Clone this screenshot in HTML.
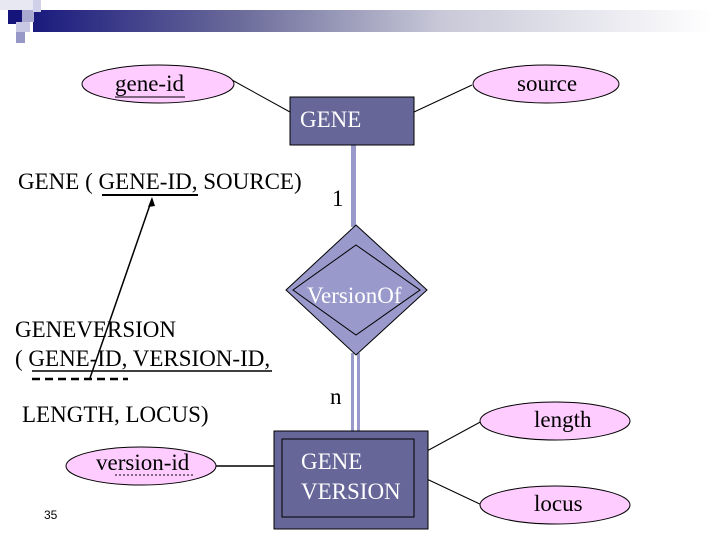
<!DOCTYPE html>
<html><head><meta charset="utf-8"><style>
body{margin:0;width:720px;height:540px;background:#fff;overflow:hidden;position:relative;font-family:"Liberation Serif",serif}
.t{position:absolute;font-size:23px;color:#000;white-space:nowrap}
</style></head><body>
<svg width="720" height="540" style="position:absolute;left:0;top:0">
<defs><linearGradient id="g" x1="0" x2="1"><stop offset="0" stop-color="#1a1a7e"/><stop offset="0.3" stop-color="#6a6a9a"/><stop offset="0.6" stop-color="#c8c8d8"/><stop offset="1" stop-color="#fff"/></linearGradient></defs>
<rect x="33" y="10" width="680" height="22" fill="url(#g)"/>
<rect x="0" y="0" width="40" height="10" fill="#e8e8f2"/>
<rect x="8" y="10" width="14" height="14" fill="#14147a"/>
<rect x="22" y="10" width="12" height="12" fill="#aaaad0"/>
<rect x="16" y="22" width="14" height="10" fill="#c8c8e4"/>
<rect x="16" y="32" width="9" height="11" fill="#9898c8"/>
<rect x="33" y="0" width="8" height="12" fill="#d0d0e8"/>
<line x1="232" y1="80" x2="290" y2="112" stroke="#000"/>
<line x1="414" y1="112" x2="472" y2="85" stroke="#000"/>
<line x1="214" y1="466" x2="282" y2="466" stroke="#000" stroke-width="1.5"/>
<line x1="414" y1="458" x2="484" y2="420" stroke="#000"/>
<line x1="414" y1="473" x2="484" y2="506" stroke="#000"/>
<rect x="351" y="145" width="5" height="82" fill="#9999cc"/>
<rect x="351" y="353" width="3" height="86" fill="#9999cc"/>
<rect x="357" y="353" width="3" height="86" fill="#9999cc"/>
<ellipse cx="158" cy="84" rx="76" ry="19" fill="#ffccff" stroke="#000"/>
<ellipse cx="546" cy="84" rx="73" ry="19" fill="#ffccff" stroke="#000"/>
<ellipse cx="141" cy="466" rx="75" ry="19" fill="#ffccff" stroke="#000"/>
<ellipse cx="555" cy="421" rx="75" ry="19" fill="#ffccff" stroke="#000"/>
<ellipse cx="555" cy="505" rx="75" ry="19" fill="#ffccff" stroke="#000"/>
<rect x="290" y="97" width="124" height="48" fill="#666699" stroke="#000"/>
<polygon points="356,225 427,290 356,355 286,290" fill="#9999cc" stroke="#000"/>
<polygon points="356,245 420,290 356,335 293,290" fill="none" stroke="#000"/>
<rect x="274" y="431" width="154" height="98" fill="#666699" stroke="#000"/>
<rect x="282" y="439" width="132" height="78" fill="none" stroke="#000"/>
<line x1="102" y1="195" x2="198" y2="195" stroke="#000" stroke-width="2"/>
<line x1="32" y1="371" x2="272" y2="371" stroke="#000" stroke-width="1.5"/>
<line x1="32" y1="379" x2="128" y2="379" stroke="#000" stroke-width="2.5" stroke-dasharray="8,5"/>
<line x1="115" y1="475" x2="195" y2="475" stroke="#000" stroke-dasharray="2,2"/>
<line x1="115" y1="97" x2="185" y2="97" stroke="#000"/>
<line x1="90" y1="378" x2="152" y2="199" stroke="#000" stroke-width="1.5"/>
<polygon points="152,197 148,207 155,206" fill="#000"/>
</svg>
<div class="t" style="left:115px;top:71px">gene-id</div>
<div class="t" style="left:517px;top:71px">source</div>
<div class="t" style="left:300px;top:107px;color:#fff">GENE</div>
<div class="t" style="left:18px;top:169px">GENE ( GENE-ID, SOURCE)</div>
<div class="t" style="left:332px;top:186px">1</div>
<div class="t" style="left:307px;top:283px;color:#fff">VersionOf</div>
<div class="t" style="left:15px;top:317px">GENEVERSION</div>
<div class="t" style="left:15px;top:346px">( GENE-ID, VERSION-ID,</div>
<div class="t" style="left:330px;top:384px">n</div>
<div class="t" style="left:22px;top:402px">LENGTH, LOCUS)</div>
<div class="t" style="left:96px;top:450px">version-id</div>
<div class="t" style="left:301px;top:449px;color:#fff">GENE</div>
<div class="t" style="left:301px;top:479px;color:#fff">VERSION</div>
<div class="t" style="left:534px;top:407px">length</div>
<div class="t" style="left:534px;top:491px">locus</div>
<div class="t" style="left:44px;top:508px;font-size:12px;font-family:'Liberation Sans',sans-serif">35</div>
</body></html>
